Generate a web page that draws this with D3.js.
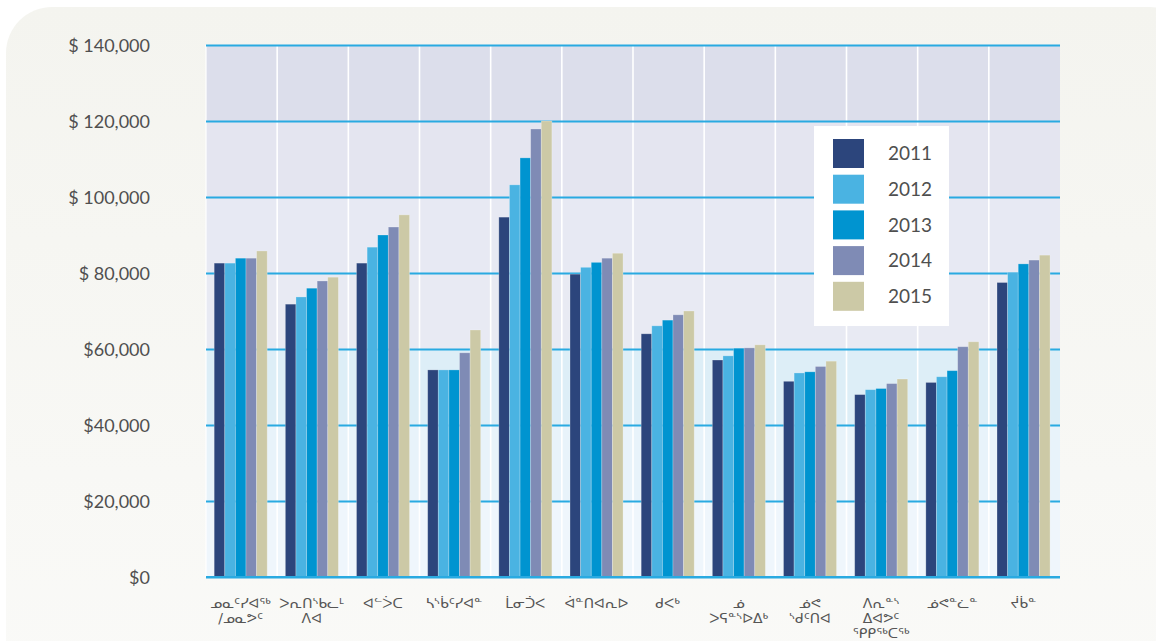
<!DOCTYPE html>
<html><head><meta charset="utf-8">
<script src="https://cdn.jsdelivr.net/npm/d3@7"></script>
<style>
html,body{margin:0;padding:0;background:#fff;}
svg{display:block;}
</style></head>
<body>
<svg id="chart" width="1156" height="641"></svg>
<script>
const categories = [
  ["ᓄᓇᑦᓯᐊᖅ", "/ᓄᓇᕗᑦ"],
  ["ᐳᕆᑎᔅᑲᓚᒻ", "ᐱᐊ"],
  ["ᐊᓪᐴᑕ"],
  ["ᓴᔅᑳᑦᓯᐊᓐ"],
  ["ᒫᓂᑑᐸ"],
  ["ᐋᓐᑎᐊᕆᐅ"],
  ["ᑯᐸᒃ"],
  ["ᓅ", "ᐳᕋᓐᔅᐅᐃᒃ"],
  ["ᓅᕙ", "ᔅᑯᑦᑎᐊ"],
  ["ᐱᕆᓐᔅ", "ᐃᐊᕗᑦ", "ᕿᑭᖅᑕᖅ"],
  ["ᓅᕙᓐᓛᓐ"],
  ["ᔫᑳᓐ"]
];
const years = ["2011", "2012", "2013", "2014", "2015"];
const v2011 = [82600, 71800, 82600, 54500, 94700, 79700, 64000, 57100, 51500, 48000, 51200, 77500];
const v2012 = [82600, 73700, 86800, 54500, 103200, 81500, 66100, 58200, 53700, 49300, 52700, 80200];
const v2013 = [83900, 76000, 90000, 54500, 110300, 82800, 67600, 60200, 54000, 49600, 54300, 82400];
const v2014 = [83900, 77900, 92100, 59000, 117900, 83900, 69000, 60300, 55400, 50900, 60600, 83400];
const v2015 = [85800, 78900, 95300, 65000, 120000, 85200, 70000, 61100, 56800, 52100, 61900, 84700];
const yTicks = [0, 20000, 40000, 60000, 80000, 100000, 120000, 140000];
const yTickLabels = ["$0", "$20,000", "$40,000", "$60,000", "$ 80,000", "$ 100,000", "$ 120,000", "$ 140,000"];
const colors = ["#2c457c", "#4ab3e2", "#0094d0", "#7f8bb5", "#ccc9a6"];
const bandColors = ["#eff6fc", "#e8f3fa", "#ddeef7", "#e8eaf3", "#e7e9f3", "#e4e5f0", "#dcdeeb"];

const series = [v2011, v2012, v2013, v2014, v2015];

const svg = d3.select("#chart");
const plot = {left: 206, right: 1060, top: 45, bottom: 577};

// panel background
const defs = svg.append("defs");
const pg = defs.append("linearGradient").attr("id","pg").attr("x1",0).attr("y1",0).attr("x2",0).attr("y2",1);
pg.append("stop").attr("offset","0%").attr("stop-color","#f4f4ef");
pg.append("stop").attr("offset","100%").attr("stop-color","#fafaf8");
svg.append("rect").attr("x",6).attr("y",7).attr("width",1190).attr("height",700)
  .attr("rx",46).attr("ry",46).attr("fill","url(#pg)");

const idx = d3.range(categories.length);
const x0 = d3.scaleBand().domain(idx).range([plot.left, plot.right]).padding(0);
const bw = x0.bandwidth();
const x1 = d3.scaleBand().domain(years).range([bw*0.115, bw*0.86]).padding(0);
const y = d3.scaleLinear().domain([0, 140000]).range([plot.bottom, plot.top]);

// bands
const g = svg.append("g");
g.selectAll("rect.band").data(d3.range(yTicks.length-1)).enter().append("rect")
  .attr("x", plot.left).attr("width", plot.right-plot.left)
  .attr("y", i => y(yTicks[i+1])).attr("height", i => y(yTicks[i]) - y(yTicks[i+1]))
  .attr("fill", i => bandColors[i]);

// vertical white separators
g.selectAll("line.sep").data(idx.slice(1)).enter().append("line")
  .attr("x1", i => x0(i)).attr("x2", i => x0(i))
  .attr("y1", plot.top).attr("y2", plot.bottom)
  .attr("stroke", "#ffffff").attr("stroke-width", 1.6);
g.append("line").attr("x1", plot.left).attr("x2", plot.left).attr("y1", plot.top).attr("y2", plot.bottom)
  .attr("stroke", "#ffffff").attr("stroke-width", 1.2);

// gridlines
const yAxis = d3.axisLeft(y).tickValues(yTicks).tickSize(-(plot.right-plot.left))
  .tickFormat((d,i) => yTickLabels[i]).tickPadding(56);
const ya = svg.append("g").attr("transform", `translate(${plot.left},0)`).call(yAxis);
ya.select(".domain").remove();
ya.selectAll(".tick line").attr("stroke", "#29aae1").attr("stroke-width", 2);
ya.selectAll(".tick text").attr("font-family", "Lato, 'Open Sans', sans-serif")
  .attr("font-size", 18).attr("fill", "#4f4f4f").attr("dy", "0.34em");

// bars
const groups = svg.append("g").selectAll("g.grp").data(idx).enter().append("g")
  .attr("transform", i => `translate(${x0(i)},0)`);
groups.selectAll("rect").data(i => years.map((yr, k) => ({yr, k, v: series[k][i]}))).enter().append("rect")
  .attr("x", d => x1(d.yr)).attr("width", x1.bandwidth())
  .attr("y", d => y(d.v)).attr("height", d => y(0) - y(d.v))
  .attr("fill", d => colors[d.k])
  .attr("stroke", "rgba(255,255,255,0.3)").attr("stroke-width", 0.8);

// baseline redraw
svg.append("line").attr("x1", plot.left).attr("x2", plot.right).attr("y1", y(0)).attr("y2", y(0))
  .attr("stroke", "#29aae1").attr("stroke-width", 2);

// x axis labels
const xa = svg.append("g");
idx.forEach(i => {
  const cx = x0(i) + bw/2 - 1;
  const t = xa.append("text").attr("x", cx).attr("y", 608)
    .attr("text-anchor", "middle").attr("font-family", "'DejaVu Sans', sans-serif")
    .attr("font-size", 14).attr("fill", "#555");
  categories[i].forEach((line, j) => {
    t.append("tspan").attr("x", cx).attr("dy", j === 0 ? 0 : 15).text(line);
  });
});

// legend
const lg = svg.append("g");
lg.append("rect").attr("x", 814).attr("y", 126).attr("width", 135).attr("height", 200).attr("fill", "#ffffff");
years.forEach((yr, k) => {
  const yy = 139 + k * 35.7;
  lg.append("rect").attr("x", 833).attr("y", yy).attr("width", 31).attr("height", 29).attr("fill", colors[k]);
  lg.append("text").attr("x", 888).attr("y", yy + 14.5).attr("dy", "0.36em")
    .attr("font-family", "Lato, 'Open Sans', sans-serif").attr("font-size", 19).attr("fill", "#4f4f4f").text(yr);
});
</script>
</body></html>
